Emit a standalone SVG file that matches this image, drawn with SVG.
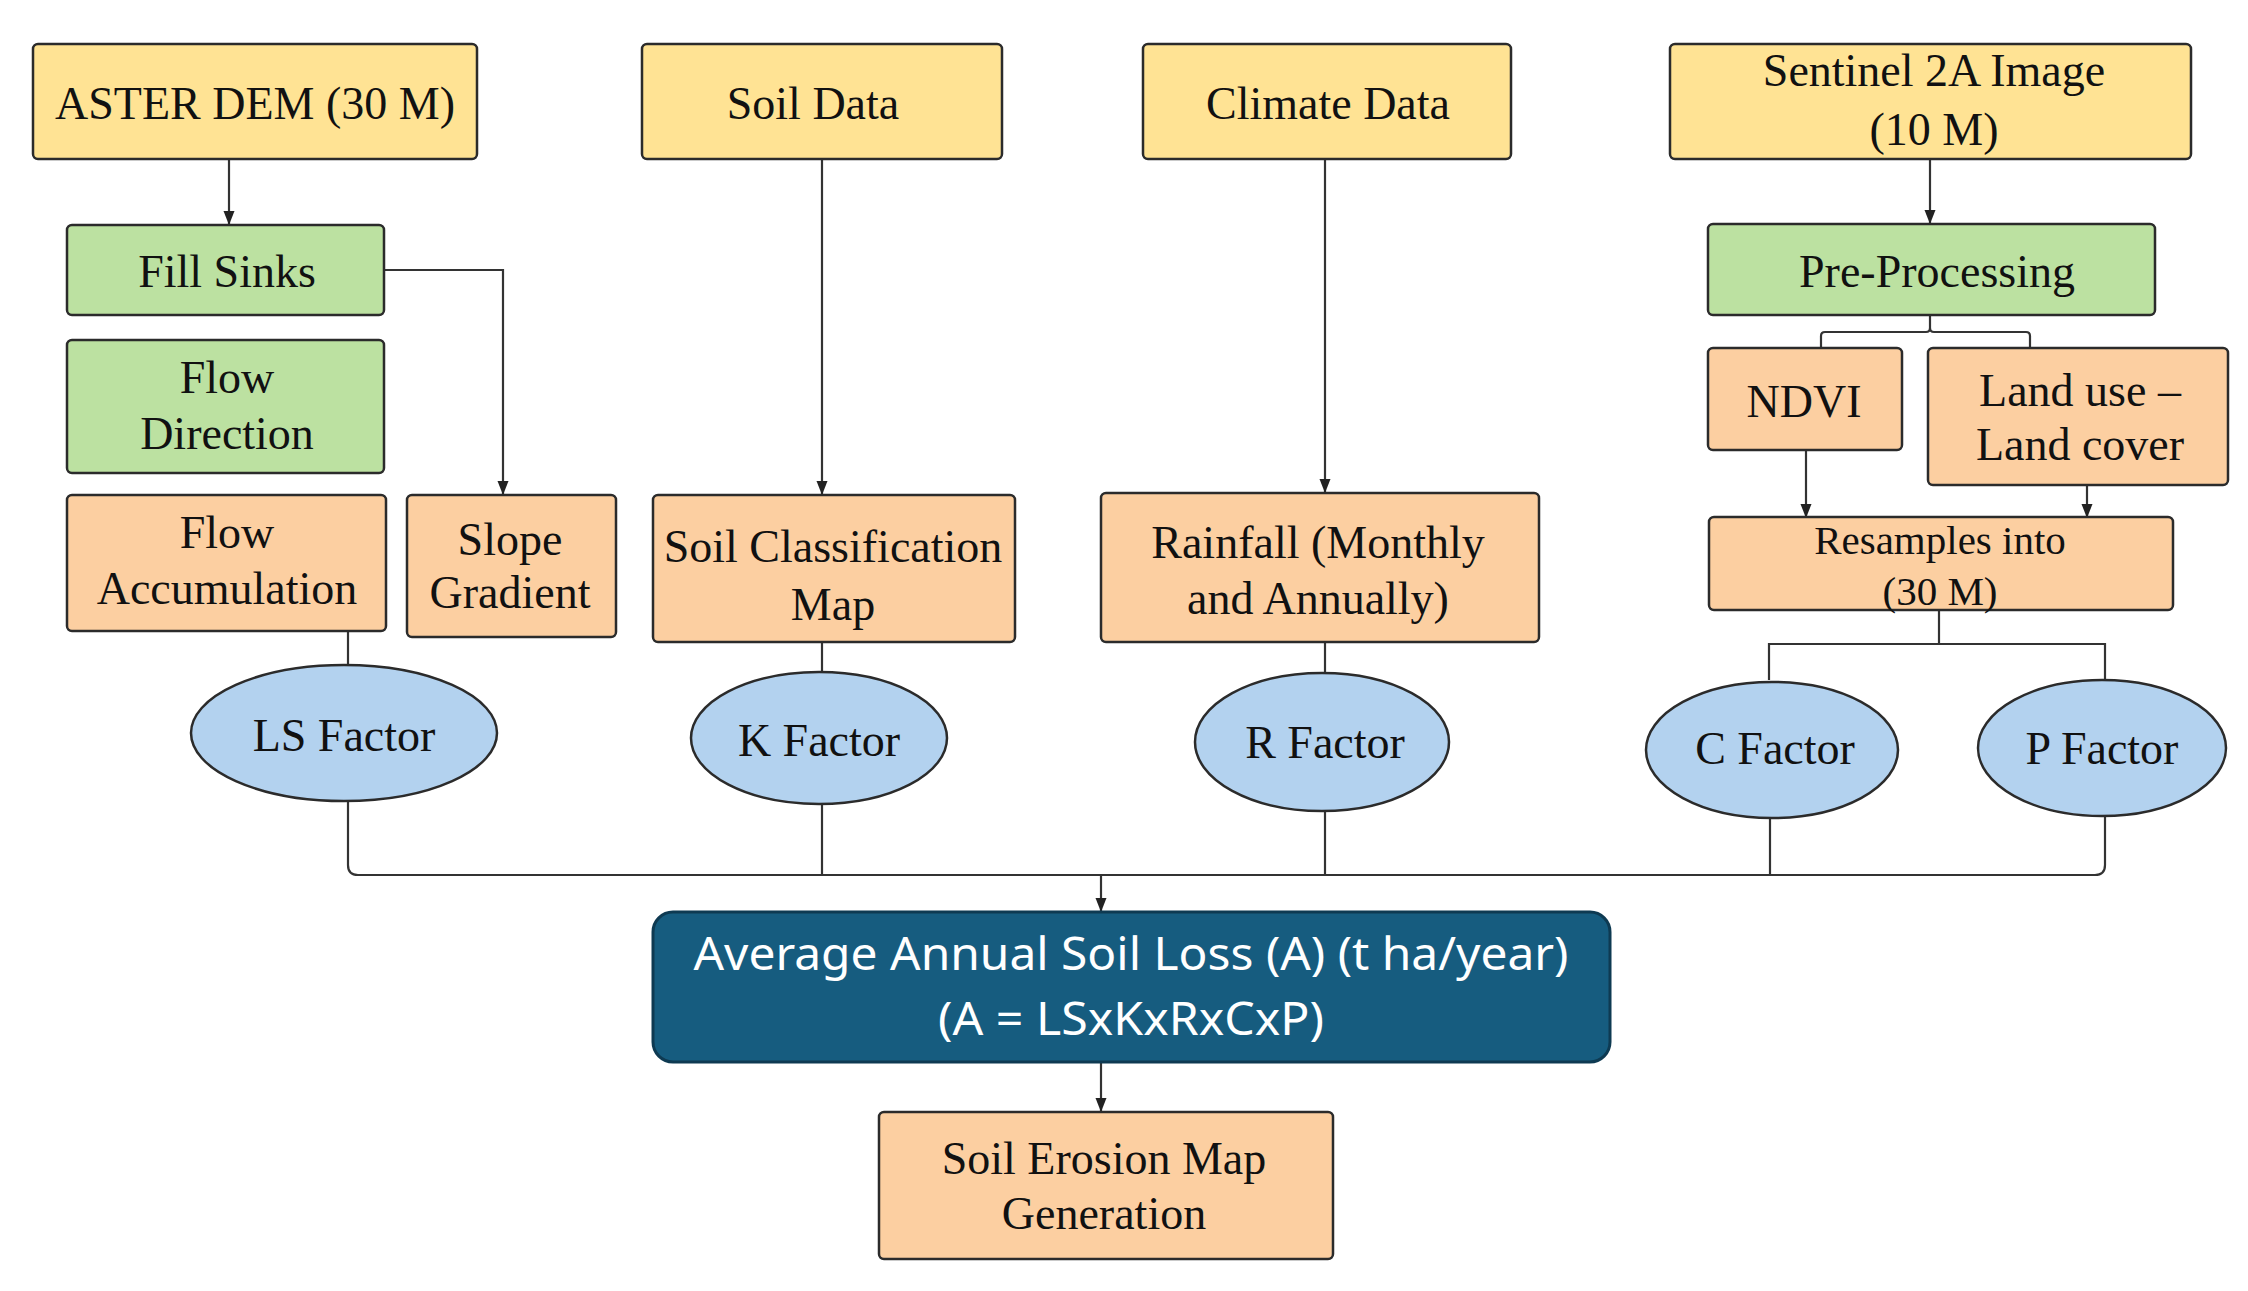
<svg xmlns="http://www.w3.org/2000/svg" width="2248" height="1291" viewBox="0 0 2248 1291">
<style>
.box{stroke:#2b2b2b;stroke-width:2.5}
.y{fill:#FFE394}
.g{fill:#BCE1A1}
.o{fill:#FCCFA1}
.b{fill:#B3D2EF}
.t{font-family:"Liberation Serif","Times New Roman",serif;font-size:46px;fill:#111;text-anchor:middle}
.s{font-size:41px}
.w{font-family:"Noto Sans","Open Sans",sans-serif;font-size:45px;fill:#fff;text-anchor:middle}
.c{fill:none;stroke:#333;stroke-width:2.2}
</style>
<defs>
<marker id="ah" viewBox="0 0 10 10" refX="10" refY="5" markerWidth="14" markerHeight="11" markerUnits="userSpaceOnUse" orient="auto" preserveAspectRatio="none" style="overflow:visible">
<path d="M0,0 L10,5 L0,10 z" fill="#222"/>
</marker>
</defs>
<rect width="2248" height="1291" fill="#fff"/>
<g id="connectors">
<path class="c" d="M229 159 V225" marker-end="url(#ah)"/>
<path class="c" d="M384 270 H503 V495" marker-end="url(#ah)"/>
<path class="c" d="M822 159 V495" marker-end="url(#ah)"/>
<path class="c" d="M1325 159 V493" marker-end="url(#ah)"/>
<path class="c" d="M1930 159 V224" marker-end="url(#ah)"/>
<path class="c" d="M1930 315 V328 Q1930 332 1926 332 H1825 Q1821 332 1821 336 V348"/>
<path class="c" d="M1930 328 Q1930 332 1934 332 H2026 Q2030 332 2030 336 V348"/>
<path class="c" d="M1806 450 V518" marker-end="url(#ah)"/>
<path class="c" d="M2087 485 V518" marker-end="url(#ah)"/>
<path class="c" d="M1939 609 V644 M1769 680 V644 H2105 V680"/>
<path class="c" d="M348 631 V666"/>
<path class="c" d="M822 642 V672"/>
<path class="c" d="M1325 642 V673"/>
<path class="c" d="M348 801 V865 Q348 875 358 875 H2095 Q2105 875 2105 865 V816"/>
<path class="c" d="M822 804 V875"/>
<path class="c" d="M1325 811 V875"/>
<path class="c" d="M1770 818 V875"/>
<path class="c" d="M1101 875 V912" marker-end="url(#ah)"/>
<path class="c" d="M1101 1062 V1112" marker-end="url(#ah)"/>
</g>
<g id="aster"><rect class="box y" x="33" y="44" width="444" height="115" rx="5"/><text class="t" x="255" y="119">ASTER DEM (30 M)</text></g>
<g id="soildata"><rect class="box y" x="642" y="44" width="360" height="115" rx="5"/><text class="t" x="813" y="119">Soil Data</text></g>
<g id="climate"><rect class="box y" x="1143" y="44" width="368" height="115" rx="5"/><text class="t" x="1328" y="119">Climate Data</text></g>
<g id="sentinel"><rect class="box y" x="1670" y="44" width="521" height="115" rx="5"/><text class="t" x="1934" y="86">Sentinel 2A Image</text><text class="t" x="1934" y="145">(10 M)</text></g>
<g id="fillsinks"><rect class="box g" x="67" y="225" width="317" height="90" rx="5"/><text class="t" x="227" y="287">Fill Sinks</text></g>
<g id="flowdir"><rect class="box g" x="67" y="340" width="317" height="133" rx="5"/><text class="t" x="227" y="393">Flow</text><text class="t" x="227" y="449">Direction</text></g>
<g id="flowacc"><rect class="box o" x="67" y="495" width="319" height="136" rx="5"/><text class="t" x="227" y="548">Flow</text><text class="t" x="227" y="604">Accumulation</text></g>
<g id="slope"><rect class="box o" x="407" y="495" width="209" height="142" rx="5"/><text class="t" x="510" y="555">Slope</text><text class="t" x="510" y="608">Gradient</text></g>
<g id="soilclass"><rect class="box o" x="653" y="495" width="362" height="147" rx="5"/><text class="t" x="833" y="562">Soil Classification</text><text class="t" x="833" y="620">Map</text></g>
<g id="rainfall"><rect class="box o" x="1101" y="493" width="438" height="149" rx="5"/><text class="t" x="1318" y="558">Rainfall (Monthly</text><text class="t" x="1318" y="614">and Annually)</text></g>
<g id="preproc"><rect class="box g" x="1708" y="224" width="447" height="91" rx="5"/><text class="t" x="1937" y="287">Pre-Processing</text></g>
<g id="ndvi"><rect class="box o" x="1708" y="348" width="194" height="102" rx="5"/><text class="t" x="1804" y="417">NDVI</text></g>
<g id="landuse"><rect class="box o" x="1928" y="348" width="300" height="137" rx="5"/><text class="t" x="2080" y="406">Land use –</text><text class="t" x="2080" y="460">Land cover</text></g>
<g id="resample"><rect class="box o" x="1709" y="517" width="464" height="93" rx="5"/><text class="t s" x="1940" y="554">Resamples into</text><text class="t s" x="1940" y="605">(30 M)</text></g>
<g id="ls"><ellipse class="box b" cx="344" cy="733" rx="153" ry="68"/><text class="t" x="344" y="751">LS Factor</text></g>
<g id="k"><ellipse class="box b" cx="819" cy="738" rx="128" ry="66"/><text class="t" x="819" y="756">K Factor</text></g>
<g id="r"><ellipse class="box b" cx="1322" cy="742" rx="127" ry="69"/><text class="t" x="1325" y="758">R Factor</text></g>
<g id="cf"><ellipse class="box b" cx="1772" cy="750" rx="126" ry="68"/><text class="t" x="1775" y="764">C Factor</text></g>
<g id="pf"><ellipse class="box b" cx="2102" cy="748" rx="124" ry="68"/><text class="t" x="2102" y="764">P Factor</text></g>
<g id="avg"><rect x="653" y="912" width="957" height="150" rx="20" fill="#165C7F" stroke="#0E3A52" stroke-width="3"/><text class="w" x="1131" y="970" textLength="875" lengthAdjust="spacingAndGlyphs">Average Annual Soil Loss (A) (t ha/year)</text><text class="w" x="1131" y="1035" textLength="386" lengthAdjust="spacingAndGlyphs">(A = LSxKxRxCxP)</text></g>
<g id="erosion"><rect class="box o" x="879" y="1112" width="454" height="147" rx="5"/><text class="t" x="1104" y="1174">Soil Erosion Map</text><text class="t" x="1104" y="1229">Generation</text></g>
</svg>
